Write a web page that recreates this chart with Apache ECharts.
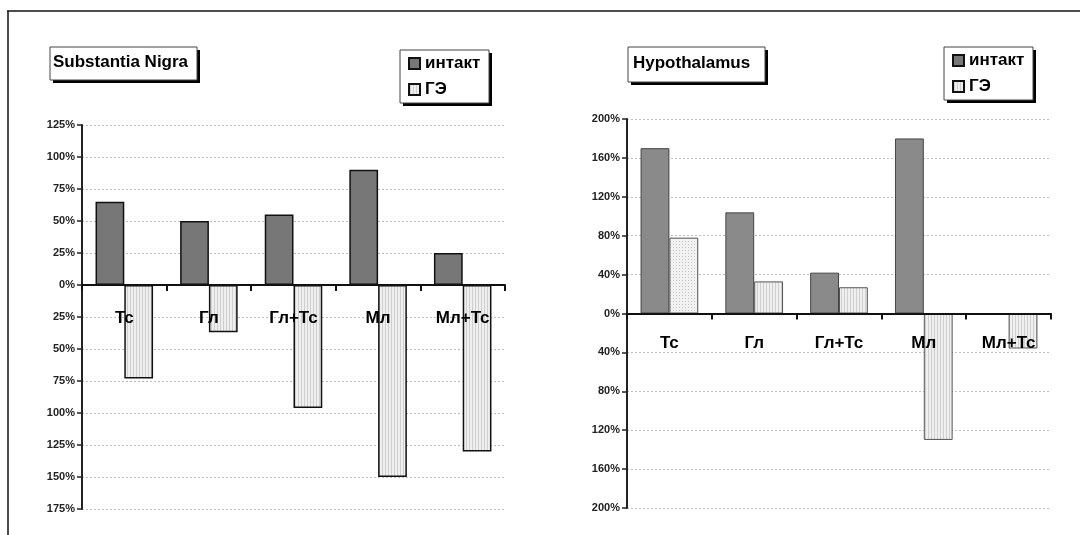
<!DOCTYPE html>
<html>
<head>
<meta charset="utf-8">
<script src="https://cdn.jsdelivr.net/npm/echarts@6/dist/echarts.min.js"></script>
<style>
  html, body { margin: 0; padding: 0; background: #fff; }
  #chart { width: 1080px; height: 535px; }
</style>
</head>
<body>
<div id="chart"></div>
<script>
// Categories shared by both panels
const categories = ['Тс', 'Гл', 'Гл+Тс', 'Мл', 'Мл+Тс'];
const seriesNames = ['интакт', 'ГЭ'];

// Substantia Nigra, % change
const nigraIntact = [65, 50, 55, 90, 25];
const nigraGE = [-73, -37, -96, -150, -130];

// Hypothalamus, % change
const hypoIntact = [170, 104, 42, 180, 0];
const hypoGE = [78, 33, 27, -130, -36];

// Axis ranges
const nigraAxis = { min: -175, max: 125, interval: 25 };
const hypoAxis = { min: -200, max: 200, interval: 40 };

const FONT = 'Liberation Sans, Arial, sans-serif';

// Hatched fills for the ГЭ bars
function stripePattern() {
  const c = document.createElement('canvas');
  c.width = 3; c.height = 6;
  const g = c.getContext('2d');
  g.fillStyle = '#efefef'; g.fillRect(0, 0, 3, 6);
  g.fillStyle = '#cfcfcf'; g.fillRect(1, 0, 1, 6);
  return { image: c, repeat: 'repeat' };
}
function dotPattern() {
  const c = document.createElement('canvas');
  c.width = 3; c.height = 3;
  const g = c.getContext('2d');
  g.fillStyle = '#f2f2f2'; g.fillRect(0, 0, 3, 3);
  g.fillStyle = '#c4c4c4'; g.fillRect(1, 1, 1, 1);
  return { image: c, repeat: 'repeat' };
}
const stripes = stripePattern();
const dots = dotPattern();

const chart = echarts.init(document.getElementById('chart'), null, { renderer: 'canvas' });

const pctLabel = v => Math.abs(v) + '%';

function yAxisFor(idx, range) {
  return {
    gridIndex: idx, type: 'value',
    min: range.min, max: range.max, interval: range.interval,
    axisLine: { show: true, lineStyle: { color: '#222', width: 2 } },
    axisTick: { show: true, length: 5, lineStyle: { color: '#222', width: 1.5 } },
    axisLabel: { formatter: pctLabel, color: '#222', fontSize: 11, fontWeight: 'bold',
                 fontFamily: FONT, margin: 7 },
    splitLine: { show: true, lineStyle: { color: '#bdbdbd', type: [2, 2], width: 1 } }
  };
}
function xAxisFor(idx) {
  return {
    gridIndex: idx, type: 'category', data: categories, z: 5,
    axisLine: { show: true, onZero: true, lineStyle: { color: '#111', width: 2 } },
    axisTick: { show: true, length: 6, inside: false, lineStyle: { color: '#111', width: 2 } },
    axisLabel: { show: false },
    splitLine: { show: false }
  };
}

// Category names written just under the zero line of each panel
function categoryLabels(idx, drop) {
  return {
    type: 'custom', xAxisIndex: idx, yAxisIndex: idx, z: 6, silent: true,
    data: categories.map((c, i) => [i, 0]),
    renderItem: (params, api) => {
      const p = api.coord([api.value(0), 0]);
      return {
        type: 'text', x: p[0], y: p[1] + drop,
        style: { text: categories[params.dataIndex], fill: '#000', font: 'bold 17px ' + FONT,
                 align: 'center', verticalAlign: 'middle' }
      };
    }
  };
}

// Framed boxes with a hard drop shadow behind titles and legends
function shadowBox(x, y, w, h) {
  return [
    { type: 'rect', z: 1, shape: { x: x + 3, y: y + 3, width: w, height: h }, style: { fill: '#000' } },
    { type: 'rect', z: 2, shape: { x: x, y: y, width: w, height: h },
      style: { fill: '#fff', stroke: '#444', lineWidth: 1 } }
  ];
}

const titleText = { fontSize: 17, fontWeight: 'bold', color: '#000', fontFamily: FONT };
const legendText = { fontSize: 17, fontWeight: 'bold', color: '#000', fontFamily: FONT };

const option = {
  backgroundColor: '#fff',
  animation: false,
  title: [
    { text: 'Substantia Nigra', left: 53, top: 54, padding: 0, textStyle: titleText },
    { text: 'Hypothalamus', left: 633, top: 55, padding: 0, textStyle: titleText }
  ],
  legend: [
    { data: seriesNames, orient: 'vertical', left: 408, top: 55, padding: 0, itemGap: 9,
      itemWidth: 11, itemHeight: 11, icon: 'rect', textStyle: legendText },
    { data: seriesNames, orient: 'vertical', left: 952, top: 52, padding: 0, itemGap: 9,
      itemWidth: 11, itemHeight: 11, icon: 'rect', textStyle: legendText }
  ],
  grid: [
    { left: 82, top: 125, width: 423, height: 384 },
    { left: 627, top: 119, width: 424, height: 389 }
  ],
  xAxis: [xAxisFor(0), xAxisFor(1)],
  yAxis: [yAxisFor(0, nigraAxis), yAxisFor(1, hypoAxis)],
  series: [
    { name: seriesNames[0], type: 'bar', xAxisIndex: 0, yAxisIndex: 0, data: nigraIntact,
      barGap: '0%', barCategoryGap: '32%',
      itemStyle: { color: '#777777', borderColor: '#111', borderWidth: 1.5 } },
    { name: seriesNames[1], type: 'bar', xAxisIndex: 0, yAxisIndex: 0, data: nigraGE,
      barGap: '0%', barCategoryGap: '32%',
      itemStyle: { color: stripes, borderColor: '#111', borderWidth: 1.5 } },
    { name: seriesNames[0], type: 'bar', xAxisIndex: 1, yAxisIndex: 1, data: hypoIntact,
      barGap: '0%', barCategoryGap: '32%',
      itemStyle: { color: '#8a8a8a', borderColor: '#444', borderWidth: 1 } },
    { name: seriesNames[1], type: 'bar', xAxisIndex: 1, yAxisIndex: 1,
      data: hypoGE.map((v, i) => i === 0 ? { value: v, itemStyle: { color: dots } } : v),
      barGap: '0%', barCategoryGap: '32%',
      itemStyle: { color: stripes, borderColor: '#555', borderWidth: 1 } },
    categoryLabels(0, 33),
    categoryLabels(1, 30)
  ],
  graphic: [
    { type: 'line', shape: { x1: 7, y1: 11, x2: 1080, y2: 11 }, style: { stroke: '#111', lineWidth: 1.5 } },
    { type: 'line', shape: { x1: 8, y1: 11, x2: 8, y2: 535 }, style: { stroke: '#111', lineWidth: 1.5 } }
  ].concat(
    shadowBox(50, 47, 147, 33),
    shadowBox(628, 47, 137, 35),
    shadowBox(400, 50, 89, 53),
    shadowBox(944, 47, 89, 53)
  )
};

chart.setOption(option);
</script>
</body>
</html>
